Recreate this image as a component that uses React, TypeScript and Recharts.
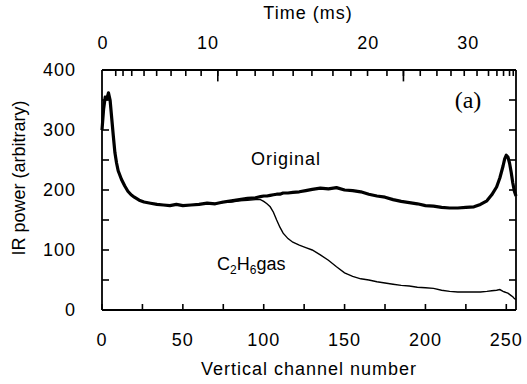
import { LineChart, Line, XAxis, YAxis, ReferenceLine } from "recharts"

const FONT = "'Liberation Sans', Arial, sans-serif"

// channel number along the bottom axis
const channels = [
  0, 1, 2, 3, 4, 5, 6, 7, 8, 9, 10, 12, 14, 16, 18, 20, 23, 26, 30, 34, 38, 42, 46, 50, 55, 60, 65, 70, 75, 80, 85,
  90, 95, 98, 100, 102, 104, 106, 108, 110, 112, 115, 118, 122, 126, 130, 135, 140, 145, 150, 155, 160, 165, 170, 175,
  180, 185, 190, 195, 200, 205, 210, 215, 220, 225, 230, 234, 238, 241, 244, 246, 248, 249, 250, 251, 252, 253, 254,
  255, 256,
]

const originalPower = [
  300, 335, 355, 352, 362, 350, 320, 290, 262, 245, 232, 218, 207, 198, 192, 188, 183, 180, 178, 176, 175, 174, 176,
  174, 175, 176, 178, 177, 180, 182, 184, 186, 187, 189, 190, 190, 191, 192, 193, 193, 195, 195, 196, 197, 199, 201,
  203, 202, 204, 200, 199, 197, 193, 190, 188, 184, 181, 179, 177, 174, 173, 171, 170, 170, 171, 172, 176, 182, 192,
  205, 220, 240, 252, 258, 255, 245, 230, 212, 198, 190,
]

const c2h6Power = [
  300, 335, 355, 352, 362, 350, 320, 290, 262, 245, 232, 218, 207, 198, 192, 188, 183, 180, 178, 176, 175, 174, 176,
  174, 175, 176, 178, 177, 179, 180, 182, 183, 184, 184, 181, 177, 172, 163, 150, 138, 128, 119, 113, 108, 104, 100,
  92, 83, 72, 62, 56, 52, 50, 47, 45, 43, 41, 40, 38, 37, 36, 33, 31, 30, 30, 30, 30, 31, 32, 33, 34, 31, 30, 29, 28,
  26, 24, 22, 19, 17,
]

const channelTicks = [0, 25, 50, 75, 100, 125, 150, 175, 200, 225, 250]
const powerTicks = [0, 50, 100, 150, 200, 250, 300, 350, 400]

// time axis on top is non-linear; tick positions given in channel units
const timeTickChannels = [
  8.5, 13, 18.4, 26, 33.8, 42.7, 51.8, 61.3, 71.6, 83.4, 94.7, 105.8, 118.2, 129.8, 142.8, 153.9, 164.2, 176.2,
  186.4, 196.8, 207.1, 215.8, 224, 231.9, 239, 244.2, 248.3, 252, 254.3,
]
const timeMajorTickChannels = [71.6, 186.4]
const timeLabels = ["0", "10", "20", "30"]
const timeLabelChannels = [0.6, 65.6, 164.6, 226.5]

const data = channels.map((ch, i) => ({ ch, original: originalPower[i], c2h6: c2h6Power[i] }))

const tickStyle = { fill: "#000", fontSize: 18, fontFamily: FONT }
const axisLine = { stroke: "#000", strokeWidth: 1.8 }
const tickLine = { stroke: "#000", strokeWidth: 1.6 }

export default function App() {
  return (
    <div
      style={{
        position: "absolute",
        left: 0,
        top: 0,
        width: 527,
        height: 384,
        background: "#fff",
        fontFamily: FONT,
        letterSpacing: "1px",
      }}
    >
      <LineChart width={527} height={384} data={data} margin={{ top: 0, right: 0, bottom: 0, left: 0 }}>
        <XAxis
          dataKey="ch"
          type="number"
          domain={[0, 256]}
          ticks={channelTicks}
          interval={0}
          height={74}
          axisLine={axisLine}
          tickLine={tickLine}
          tickSize={-6}
          tickMargin={29}
          tick={tickStyle}
          tickFormatter={(v: number) => (v % 50 === 0 ? String(v) : "")}
        />
        <XAxis
          xAxisId="top"
          orientation="top"
          dataKey="ch"
          type="number"
          domain={[0, 256]}
          ticks={timeTickChannels}
          interval={0}
          height={70}
          axisLine={axisLine}
          tickLine={tickLine}
          tickSize={-6}
          tick={tickStyle}
          tickFormatter={() => ""}
        />
        <YAxis
          type="number"
          domain={[0, 400]}
          ticks={powerTicks}
          interval={0}
          width={102}
          axisLine={axisLine}
          tickLine={tickLine}
          tickSize={-7}
          tickMargin={33}
          tick={tickStyle}
          tickFormatter={(v: number) => (v % 100 === 0 ? String(v) : "")}
        />
        <YAxis
          yAxisId="right"
          orientation="right"
          type="number"
          domain={[0, 400]}
          ticks={powerTicks}
          interval={0}
          width={11}
          axisLine={axisLine}
          tickLine={tickLine}
          tickSize={-7}
          tick={tickStyle}
          tickFormatter={() => ""}
        />
        {timeMajorTickChannels.map((ch) => (
          <ReferenceLine
            key={`major-${ch}`}
            xAxisId="top"
            segment={[
              { x: ch, y: 400 },
              { x: ch, y: 381 },
            ]}
            stroke="#000"
            strokeWidth={1.6}
            ifOverflow="visible"
          />
        ))}
        {timeLabelChannels.map((ch, i) => (
          <ReferenceLine
            key={`label-${ch}`}
            xAxisId="top"
            x={ch}
            stroke="none"
            label={{
              value: timeLabels[i],
              position: "top",
              offset: 21.5,
              fill: "#000",
              fontSize: 18,
              fontFamily: FONT,
            }}
          />
        ))}
        <Line
          dataKey="c2h6"
          yAxisId="right"
          type="linear"
          stroke="#000"
          strokeWidth={1.4}
          dot={false}
          isAnimationActive={false}
        />
        <Line
          dataKey="original"
          xAxisId="top"
          type="linear"
          stroke="#000"
          strokeWidth={3.2}
          strokeLinejoin="round"
          dot={false}
          isAnimationActive={false}
        />
      </LineChart>
      <svg
        width={527}
        height={384}
        style={{ position: "absolute", left: 0, top: 0, pointerEvents: "none" }}
      >
        <text x={308} y={19} textAnchor="middle" fontSize={18} fontFamily={FONT} fill="#000">
          Time (ms)
        </text>
        <text x={309} y={375} textAnchor="middle" fontSize={18} fontFamily={FONT} fill="#000">
          Vertical channel number
        </text>
        <text
          x={25}
          y={178}
          textAnchor="middle"
          fontSize={18}
          fontFamily={FONT}
          fill="#000"
          letterSpacing={0}
          transform="rotate(-90 25 178)"
        >
          IR power (arbitrary)
        </text>
        <text x={286} y={165} textAnchor="middle" fontSize={18} fontFamily={FONT} fill="#000">
          Original
        </text>
        <text x={217} y={270} fontSize={18} fontFamily={FONT} fill="#000" letterSpacing={0}>
          C<tspan fontSize={12} dy={4}>2</tspan>
          <tspan dy={-4}>H</tspan>
          <tspan fontSize={12} dy={4}>6</tspan>
          <tspan dy={-4}>gas</tspan>
        </text>
        <text
          x={468}
          y={108}
          textAnchor="middle"
          fontSize={24}
          fontFamily="'Liberation Serif', 'Times New Roman', serif"
          fill="#000"
          letterSpacing={0}
        >
          (a)
        </text>
      </svg>
    </div>
  )
}
